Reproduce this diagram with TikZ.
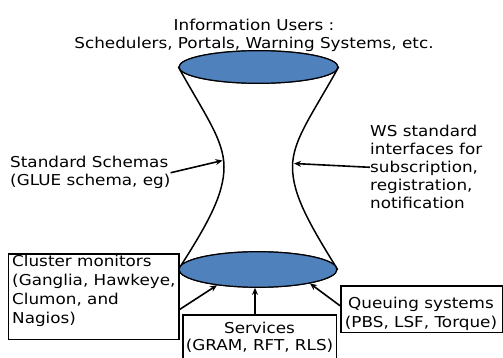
\documentclass[tikz,border=0pt]{standalone}
\usepackage{fontspec}
\setmainfont[FakeStretch=1.12]{DejaVu Sans}
\usetikzlibrary{shapes.geometric,arrows.meta,calc}
\definecolor{discblue}{RGB}{79,129,189}
\tikzset{
  txt/.style={inner sep=0pt, font=\fontsize{15}{18}\selectfont},
  boxframe/.style={draw, line width=1.5pt, inner sep=0pt, anchor=north west},
  disc/.style={ellipse, draw, line width=1.2pt, fill=discblue, inner sep=0pt},
  waist/.style={line width=1.5pt},
  arr/.style={line width=1.6pt, -{Stealth[length=7pt,width=6pt]}}
}
\begin{document}
\begin{tikzpicture}[x=1pt,y=-1pt]
\clip (0,0) rectangle (503,358);
\fill[white] (0,0) rectangle (503,358);

% header text
\node[txt, anchor=north, align=center] (users) at (254,18.6)
  {Information Users :\\Schedulers, Portals, Warning Systems, etc.};

% hourglass discs
\node[disc, minimum width=159pt, minimum height=32.6pt] (topd) at (258.5,67) {};
\node[disc, minimum width=158pt, minimum height=35.5pt] (botd) at (258,269.5) {};

% hourglass sides
\draw[waist] (topd.west) .. controls (205,115) and (224,140) .. (224,167)
  .. controls (224,195) and (207,225) .. (botd.west);
\draw[waist] (topd.east) .. controls (312,115) and (292.5,140) .. (292.5,167)
  .. controls (292.5,195) and (310,225) .. (botd.east);
\node[disc, minimum width=159pt, minimum height=32.6pt] at (258.5,67) {};
\node[disc, minimum width=158pt, minimum height=35.5pt] at (258,269.5) {};

\coordinate (lw) at (222.5,160.5);
\coordinate (rw) at (294,163.5);

% side labels
\node[txt, anchor=north west, align=left] (ss) at (10,156.3)
  {Standard Schemas\\(GLUE schema, eg)};
\node[txt, anchor=north west, align=left] (ws) at (370,125.3)
  {WS standard\\interfaces for\\subscription,\\registration,\\notification};

\draw[arr] (ss.east) -- (lw);
\draw[arr] (ws.west) -- (rw);

% boxes
\node[boxframe, minimum width=170.5pt, minimum height=85.5pt] (cl) at (7.5,253) {};
\node[txt, anchor=north west, align=left, font=\fontsize{15}{19}\selectfont] (clt) at (12,255.3)
  {Cluster monitors\\(Ganglia, Hawkeye,\\Clumon, and\\Nagios)};

\node[boxframe, minimum width=153.5pt, minimum height=60pt] (sv) at (182.3,314) {};
\node[txt, anchor=north, align=center, font=\fontsize{15}{17}\selectfont] (svt) at (259.5,321.9)
  {Services\\(GRAM, RFT, RLS)};

\node[boxframe, minimum width=161.5pt, minimum height=46.7pt] (qs) at (340,285) {};
\node[txt, anchor=north, align=center, font=\fontsize{15}{18.7}\selectfont] (qst) at (421,296.9)
  {Queuing systems\\(PBS, LSF, Torque)};

% arrows into the bottom disc
\draw[arr] ($(cl.north east)!0.65!(cl.south east)$) -- (botd.201);
\draw[arr] (sv.north -| 255,0) -- (botd.south -| 255,0);
\draw[arr] ($(qs.north west)!0.43!(qs.south west)$) -- (botd.345);
\end{tikzpicture}
\end{document}
